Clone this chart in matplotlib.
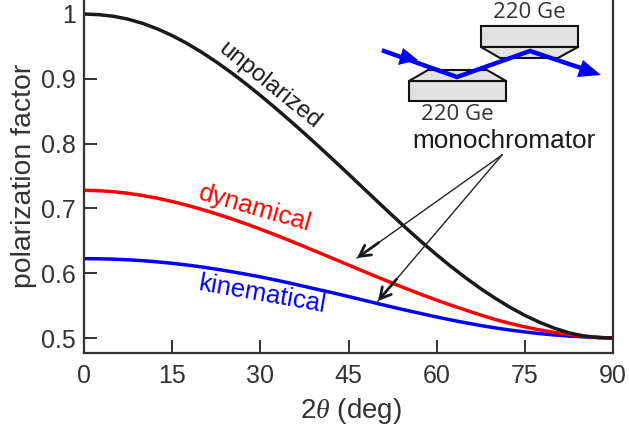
import matplotlib
matplotlib.use("Agg")
import matplotlib.pyplot as plt
from matplotlib.patches import Polygon

plt.rcParams['font.family'] = ['Liberation Sans', 'DejaVu Sans']
plt.rcParams['mathtext.fontset'] = 'custom'
plt.rcParams['mathtext.it'] = 'Liberation Serif:italic'

W, H = 629, 433
DARK = '#333333'

two_theta = [0, 2.5, 5, 7.5, 10, 12.5, 15, 17.5, 20, 22.5, 25, 27.5, 30, 32.5, 35, 37.5, 40, 42.5, 45,
             47.5, 50, 52.5, 55, 57.5, 60, 62.5, 65, 67.5, 70, 72.5, 75, 77.5, 80, 82.5, 85, 87.5, 90]
unpolarized = [1.0, 0.9990, 0.9965, 0.9920, 0.9855, 0.9770, 0.9667, 0.9547, 0.9411, 0.9261, 0.9099, 0.8926,
               0.8744, 0.8554, 0.8358, 0.8157, 0.7952, 0.7742, 0.7530, 0.7315, 0.7100, 0.6888, 0.6680,
               0.6478, 0.6284, 0.6099, 0.5925, 0.5762, 0.5611, 0.5473, 0.5350, 0.5243, 0.5153, 0.5081,
               0.5032, 0.5008, 0.5]
dynamical = [0.7280, 0.7274, 0.7258, 0.7233, 0.7199, 0.7157, 0.7107, 0.7050, 0.6986, 0.6917, 0.6843, 0.6764,
             0.6681, 0.6594, 0.6504, 0.6411, 0.6317, 0.6222, 0.6127, 0.6032, 0.5938, 0.5846, 0.5756,
             0.5669, 0.5585, 0.5505, 0.5430, 0.5355, 0.5285, 0.5225, 0.5172, 0.5126, 0.5087, 0.5055,
             0.5029, 0.5010, 0.5]
kinematical = [0.6225, 0.6223, 0.6217, 0.6207, 0.6193, 0.6175, 0.6153, 0.6127, 0.6097, 0.6063, 0.6026, 0.5986,
               0.5944, 0.5897, 0.5848, 0.5797, 0.5745, 0.5694, 0.5641, 0.5586, 0.5531, 0.5477, 0.5425,
               0.5375, 0.5325, 0.5278, 0.5234, 0.5193, 0.5156, 0.5123, 0.5094, 0.5069, 0.5048, 0.5031,
               0.5018, 0.5007, 0.5]
x_ticks = [0, 15, 30, 45, 60, 75, 90]
y_ticks = [0.5, 0.6, 0.7, 0.8, 0.9, 1.0]
y_tick_labels = ['0.5', '0.6', '0.7', '0.8', '0.9', '1']

fig = plt.figure(figsize=(W / 100, H / 100), dpi=100)
ax = fig.add_axes([84 / W, 1 - 353 / H, (613 - 84) / W, 353 / H])

ax.plot(two_theta, kinematical, color='#0000ff', lw=2.5)
ax.plot(two_theta, dynamical, color='#ff0000', lw=2.5)
ax.plot(two_theta, unpolarized, color='#1a1a1a', lw=2.5)

ax.set_xlim(0, 90)
ax.set_ylim(0.4769, 1.0216)
ax.set_xticks(x_ticks)
ax.set_yticks(y_ticks)
ax.set_yticklabels(y_tick_labels)
ax.tick_params(direction='in', length=9.4, width=1.4, color=DARK, labelcolor=DARK,
               labelsize=18, pad=6)
ax.tick_params(axis='x', pad=8)
ax.spines['top'].set_visible(False)
for s in ['left', 'right', 'bottom']:
    ax.spines[s].set_linewidth(1.6)
    ax.spines[s].set_color(DARK)

# overlay in pixel coords for the labels and the monochromator sketch
ov = fig.add_axes([0, 0, 1, 1])
ov.set_xlim(0, W)
ov.set_ylim(H, 0)
ov.axis('off')

ov.text(351, 411, r'2$\mathit{\theta}$ (deg)', fontsize=20, color=DARK, ha='center', va='center')
ov.text(24, 176, 'polarization factor', fontsize=20.4, color=DARK, rotation=90, ha='center', va='center')

ov.text(270, 86, 'unpolarized', color='#1a1a1a', fontsize=17.3, rotation=-39,
        ha='center', va='center', rotation_mode='anchor')
ov.text(255, 208, 'dynamical', color='#ff0000', fontsize=18.5, rotation=-16,
        ha='center', va='center', rotation_mode='anchor')
ov.text(262, 294, 'kinematical', color='#0000ff', fontsize=18.5, rotation=-10,
        ha='center', va='center', rotation_mode='anchor')

# crystals
crystals = [
    [(481, 26), (578, 26), (578, 47), (481, 47)],
    [(481, 47), (578, 47), (558, 58), (500, 58)],
    [(409, 81), (506, 81), (506, 101), (409, 101)],
    [(409, 81), (506, 81), (487, 70), (428, 70)],
]
for pts in crystals:
    ov.add_patch(Polygon(pts, closed=True, fc='#e2e2e2', ec='#111111', lw=1.5))

# beam
ov.plot([384, 457, 530, 590], [51, 77, 51, 71], color='#0000ff', lw=3.2,
        solid_joinstyle='miter')
ov.add_patch(Polygon([(418, 60), (403, 48), (398, 65)], closed=True, fc='#0000ff', ec='none'))
ov.add_patch(Polygon([(601, 75), (583, 60), (577, 77)], closed=True, fc='#0000ff', ec='none'))

ov.text(529, 13, '220 Ge', color=DARK, fontsize=16, ha='center', va='center',
        family=['Open Sans', 'DejaVu Sans'])
ov.text(457, 114, '220 Ge', color=DARK, fontsize=16, ha='center', va='center',
        family=['Open Sans', 'DejaVu Sans'])
ov.text(504, 141, 'monochromator', color='#1a1a1a', fontsize=18.8, ha='center', va='center')

# pointer arrows: thin shaft, heavier open head
start = (502, 155)
for tip in [(357, 258), (378, 301)]:
    ov.plot([start[0], tip[0]], [start[1], tip[1]], color='#222222', lw=1.0)
    near = (tip[0] + 0.15 * (start[0] - tip[0]), tip[1] + 0.15 * (start[1] - tip[1]))
    ov.annotate('', xy=tip, xytext=near,
                arrowprops=dict(arrowstyle='->,head_length=0.55,head_width=0.3',
                                color='#1a1a1a', lw=2, shrinkA=0, shrinkB=0,
                                mutation_scale=14))

fig.savefig('out.png', dpi=100)
